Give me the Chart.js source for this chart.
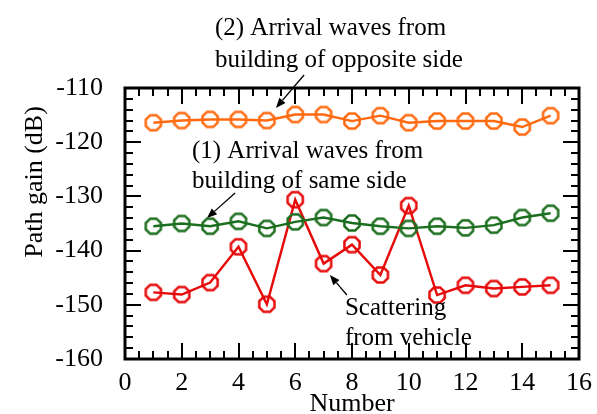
<!DOCTYPE html>
<html>
<head>
<meta charset="utf-8">
<script src="https://cdn.jsdelivr.net/npm/chart.js@4/dist/chart.umd.min.js"></script>
<style>
  html, body { margin: 0; padding: 0; background: #fff; }
  #wrap { width: 597px; height: 414px; }
</style>
</head>
<body>
<div id="wrap"><canvas id="c" width="597" height="414"></canvas></div>
<script>
// Measurement number along the street
const numbers = [1, 2, 3, 4, 5, 6, 7, 8, 9, 10, 11, 12, 13, 14, 15];

// Path gain (dB) per propagation component
const oppositeSide = [-116.4, -116.0, -115.8, -115.8, -116.0, -114.9, -114.9, -116.1, -115.1, -116.4, -116.1, -116.1, -116.1, -117.2, -115.1];
const sameSide     = [-135.5, -135.0, -135.5, -134.6, -135.9, -134.7, -133.9, -134.9, -135.5, -135.9, -135.5, -135.8, -135.3, -133.9, -133.1];
const vehicle      = [-147.7, -148.1, -145.9, -139.3, -149.9, -130.6, -142.4, -138.9, -144.5, -131.7, -148.2, -146.4, -147.0, -146.7, -146.4];

// Axis ranges and tick spacing
const xRange = [0, 16];
const xMajorStep = 2;
const xMinorStep = 0.5;
const yRange = [-160, -110];
const yMajorStep = 10;
const yMinorStep = 2;

// Text labels with arrows, in data coordinates
const notes = [
  { lines: ['(2) Arrival waves from', 'building of opposite side'], x: 3.17, y: [-100.2, -106.07],
    arrow: { from: [6.31, -107.6], to: [5.32, -113.69] } },
  { lines: ['(1) Arrival waves from', 'building of same side'], x: 2.36, y: [-122.97, -128.5],
    arrow: { from: [3.88, -129.37], to: [2.89, -133.99] } },
  { lines: ['Scattering', 'from vehicle'], x: 7.75, y: [-151.88, -157.4],
    arrow: { from: [7.82, -148.19], to: [7.22, -144.5] } }
];

const SERIF = '"Liberation Serif", "Times New Roman", serif';
Chart.defaults.font.family = SERIF;
Chart.defaults.color = '#000';

// Hollow octagon marker
function octagon(color) {
  const s = 24, c = document.createElement('canvas');
  c.width = s; c.height = s;
  const g = c.getContext('2d');
  const r = 8.2;
  g.strokeStyle = color;
  g.lineWidth = 2.5;
  g.lineJoin = 'miter';
  g.beginPath();
  for (let i = 0; i < 8; i++) {
    const a = Math.PI / 8 + i * Math.PI / 4;
    const px = s / 2 + r * Math.cos(a), py = s / 2 + r * Math.sin(a);
    if (i === 0) g.moveTo(px, py); else g.lineTo(px, py);
  }
  g.closePath();
  g.stroke();
  return c;
}

function series(values, color) {
  return {
    data: numbers.map((n, i) => ({ x: n, y: values[i] })),
    borderColor: color,
    borderWidth: 2.4,
    pointStyle: octagon(color),
    pointRadius: 8,
    showLine: true,
    tension: 0,
    clip: false
  };
}

const ORANGE = '#ff6a10';
const GREEN = '#1b6e1e';
const RED = '#e60a0a';

// Frame, inward ticks, axis titles and text notes
const decor = {
  id: 'decor',
  afterDraw(chart) {
    const { ctx, chartArea: a, scales: { x, y } } = chart;
    ctx.save();
    ctx.strokeStyle = '#000';
    ctx.lineCap = 'butt';

    // inward tick marks on all four sides
    ctx.lineWidth = 2;
    ctx.beginPath();
    for (let v = xRange[0]; v <= xRange[1] + 1e-9; v += xMinorStep) {
      const px = Math.round(x.getPixelForValue(v));
      const major = Math.abs(v / xMajorStep - Math.round(v / xMajorStep)) < 1e-9;
      const len = major ? 16 : 8;
      ctx.moveTo(px, a.bottom); ctx.lineTo(px, a.bottom - len);
      ctx.moveTo(px, a.top); ctx.lineTo(px, a.top + len);
    }
    for (let v = yRange[0]; v <= yRange[1] + 1e-9; v += yMinorStep) {
      const py = Math.round(y.getPixelForValue(v));
      const major = Math.abs(v / yMajorStep - Math.round(v / yMajorStep)) < 1e-9;
      const len = major ? 16 : 8;
      ctx.moveTo(a.left, py); ctx.lineTo(a.left + len, py);
      ctx.moveTo(a.right, py); ctx.lineTo(a.right - len, py);
    }
    ctx.stroke();

    // frame
    ctx.lineWidth = 3;
    ctx.strokeRect(a.left, a.top, a.right - a.left, a.bottom - a.top);

    // axis titles
    ctx.fillStyle = '#000';
    ctx.font = '26px ' + SERIF;
    ctx.textAlign = 'center';
    ctx.textBaseline = 'alphabetic';
    ctx.fillText('Number', (a.left + a.right) / 2, 411);
    ctx.save();
    ctx.translate(42, 182);
    ctx.rotate(-Math.PI / 2);
    ctx.fillText('Path gain (dB)', 0, 0);
    ctx.restore();

    // notes with arrows
    ctx.font = '25px ' + SERIF;
    ctx.textAlign = 'left';
    notes.forEach(n => {
      n.lines.forEach((t, i) => {
        ctx.fillText(t, x.getPixelForValue(n.x), y.getPixelForValue(n.y[i]));
      });
      const x0 = x.getPixelForValue(n.arrow.from[0]), y0 = y.getPixelForValue(n.arrow.from[1]);
      const x1 = x.getPixelForValue(n.arrow.to[0]), y1 = y.getPixelForValue(n.arrow.to[1]);
      const ang = Math.atan2(y1 - y0, x1 - x0);
      const hl = 10, hw = 4;
      const bx = x1 - hl * Math.cos(ang), by = y1 - hl * Math.sin(ang);
      ctx.lineWidth = 1.3;
      ctx.beginPath();
      ctx.moveTo(x0, y0); ctx.lineTo(bx, by);
      ctx.stroke();
      ctx.beginPath();
      ctx.moveTo(x1, y1);
      ctx.lineTo(bx + hw * Math.sin(ang), by - hw * Math.cos(ang));
      ctx.lineTo(bx - hw * Math.sin(ang), by + hw * Math.cos(ang));
      ctx.closePath();
      ctx.fill();
    });
    ctx.restore();
  }
};

new Chart(document.getElementById('c'), {
  type: 'scatter',
  data: {
    datasets: [
      series(oppositeSide, ORANGE),
      series(sameSide, GREEN),
      series(vehicle, RED)
    ]
  },
  options: {
    responsive: false,
    animation: false,
    layout: { padding: { top: 88, right: 18, left: 0, bottom: 0 } },
    plugins: { legend: { display: false }, tooltip: { enabled: false } },
    scales: {
      x: {
        type: 'linear',
        min: xRange[0], max: xRange[1],
        grid: { display: false },
        border: { display: false },
        ticks: { stepSize: xMajorStep, font: { size: 26 }, padding: 1, maxRotation: 0 },
        afterFit(s) { s.height = 55; }
      },
      y: {
        type: 'linear',
        min: yRange[0], max: yRange[1],
        grid: { display: false },
        border: { display: false },
        ticks: { stepSize: yMajorStep, font: { size: 26 }, padding: 14 },
        afterFit(s) { s.width = 125; }
      }
    }
  },
  plugins: [decor]
});
</script>
</body>
</html>
